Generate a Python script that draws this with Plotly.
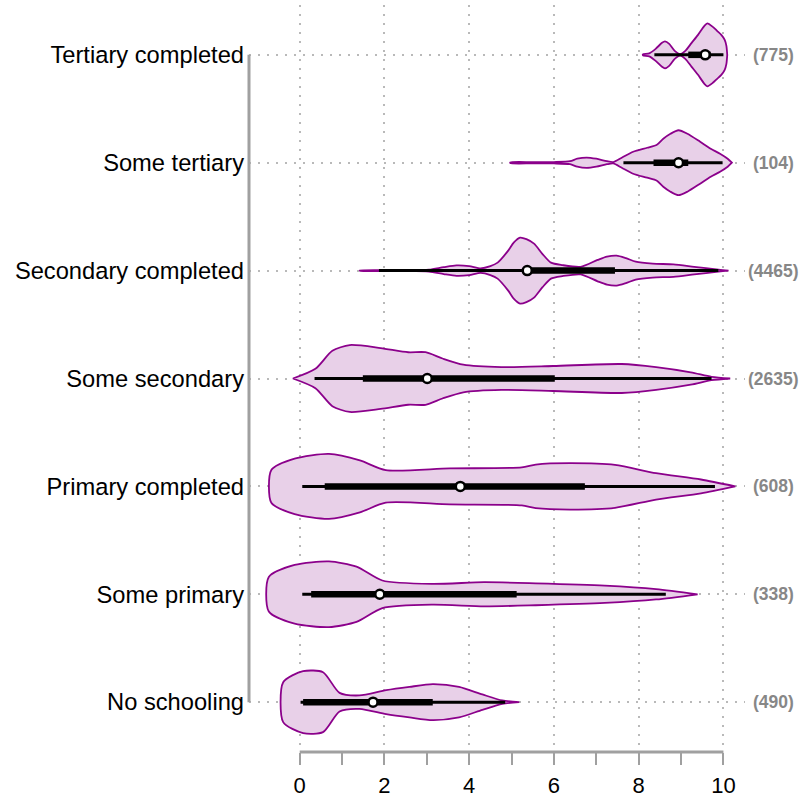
import plotly.graph_objects as go

# Education groups, listed top to bottom
categories = ["Tertiary completed", "Some tertiary", "Secondary completed",
              "Some secondary", "Primary completed", "Some primary", "No schooling"]
counts = [775, 104, 4465, 2635, 608, 338, 490]

# Box-plot summaries per group
whisker_lo = [8.37, 7.64, 1.87, 0.35, 0.06, 0.06, 0.02]
q1 = [9.17, 8.35, 5.28, 1.49, 0.59, 0.27, 0.08]
median = [9.57, 8.94, 5.37, 3.01, 3.79, 1.89, 1.73]
q3 = [9.70, 9.17, 7.44, 6.02, 6.73, 5.12, 3.14]
whisker_hi = [10.0, 9.98, 9.88, 9.72, 9.80, 8.64, 4.85]

# Kernel density profiles (score grid, density) per group
tert_done_x = [8.10, 8.25, 8.40, 8.55, 8.62, 8.72, 8.85, 8.98, 9.10, 9.25, 9.40,
               9.55, 9.62, 9.75, 9.85, 9.95, 10.03, 10.07, 10.09]
tert_done_d = [0.5, 1.5, 6, 12, 13.5, 11, 4, 0.8, 4, 12, 20,
               29, 31.5, 28, 24, 20, 15, 9, 0]

tert_some_x = [4.97, 5.5, 6.0, 6.38, 6.55, 6.77, 7.0, 7.25, 7.40, 7.6, 7.87, 8.2,
               8.43, 8.58, 8.75, 8.94, 9.15, 9.45, 9.7, 9.92, 10.1, 10.2]
tert_some_d = [0.4, 0.6, 0.7, 1.5, 4, 5.2, 4, 1.5, 0.7, 5, 11, 15,
               18, 24, 29, 32.5, 29, 21, 14, 9, 4, 0]

sec_done_x = [1.42, 2.5, 3.05, 3.4, 3.70, 4.0, 4.27, 4.5, 4.67, 4.92, 5.05, 5.20,
              5.35, 5.53, 5.73, 5.93, 6.2, 6.63, 7.03, 7.25, 7.48, 7.7, 7.93,
              8.33, 8.82, 9.31, 9.88, 10.12]
sec_done_d = [0.2, 0.3, 1, 3.5, 5.2, 4.5, 2.3, 4.5, 8, 20, 28, 33,
              31.5, 27, 16.6, 8, 5.5, 3.8, 10.7, 14, 15, 12.5, 9,
              7, 6.2, 3.8, 1, 0]

sec_some_x = [-0.16, 0.37, 0.77, 1.18, 1.91, 2.56, 2.97, 3.37, 3.86, 4.76, 5.98,
              7.60, 8.41, 9.23, 9.72, 10.16]
sec_some_d = [0, 9.7, 27.7, 33.5, 30.5, 26.3, 26.3, 20, 13.8, 11.4, 12.5,
              14.5, 11.4, 6.2, 1.7, 0]

prim_done_x = [-0.67, -0.12, 0.69, 1.42, 2.03, 3.54, 5.24, 5.57, 6.38, 7.44, 8.41,
               9.47, 10.28]
prim_done_d = [16.3, 27.7, 32.5, 26, 16.3, 18, 19, 21.8, 23.2, 21.5, 13.2,
               6.9, 0]

prim_some_x = [-0.73, -0.12, 0.69, 1.34, 1.95, 3.13, 4.35, 5.57, 7.20, 8.41, 9.39]
prim_some_d = [17.3, 29.4, 32.9, 27.7, 13.8, 10.4, 12.1, 11, 8.7, 5.2, 0]

none_x = [-0.39, 0.08, 0.55, 0.94, 1.41, 2.04, 2.59, 3.14, 3.76, 4.31, 4.78, 5.18]
none_d = [20, 31, 30, 9.3, 6.7, 12, 15.3, 18, 15.3, 7.7, 1.7, 0]

profiles = [(tert_done_x, tert_done_d), (tert_some_x, tert_some_d),
            (sec_done_x, sec_done_d), (sec_some_x, sec_some_d),
            (prim_done_x, prim_done_d), (prim_some_x, prim_some_d),
            (none_x, none_d)]

FONT = "Liberation Sans, Arial, Helvetica, sans-serif"
FILL = "rgb(232,208,232)"
EDGE = "rgb(139,0,139)"
AXIS_GREY = "rgb(160,160,160)"
GRID_GREY = "rgb(185,185,185)"
DENS_SCALE = 1.0 / 108.0   # density units -> row spacing

n = len(categories)
ypos = [n - 1 - i for i in range(n)]

fig = go.Figure()

for i, (gx, gd) in enumerate(profiles):
    yc = ypos[i]
    upper = [yc + d * DENS_SCALE for d in gd]
    lower = [yc - d * DENS_SCALE for d in gd]
    xs = list(gx) + list(gx[::-1]) + [gx[0]]
    ys = upper + lower[::-1] + [upper[0]]
    fig.add_trace(go.Scatter(
        x=xs, y=ys, mode="lines", fill="toself", fillcolor=FILL,
        line=dict(color=EDGE, width=1.8, shape="spline", smoothing=0.7),
        hoverinfo="skip", showlegend=False))

for i in range(n):
    yc = ypos[i]
    fig.add_trace(go.Scatter(
        x=[whisker_lo[i], whisker_hi[i]], y=[yc, yc], mode="lines",
        line=dict(color="black", width=3), showlegend=False, hoverinfo="skip"))
    fig.add_trace(go.Scatter(
        x=[q1[i], q3[i]], y=[yc, yc], mode="lines",
        line=dict(color="black", width=6.5), showlegend=False, hoverinfo="skip"))
    fig.add_trace(go.Scatter(
        x=[median[i]], y=[yc], mode="markers",
        marker=dict(symbol="circle", size=9, color="white",
                    line=dict(color="black", width=2.5)),
        showlegend=False, hoverinfo="skip"))
    fig.add_annotation(
        x=1, xref="paper", xshift=28, y=yc, yref="y",
        text=f"<b>({counts[i]})</b>", showarrow=False, xanchor="center",
        font=dict(family=FONT, size=17.5, color="rgb(135,135,135)"))

# Axis lines spanning only the data range
fig.add_shape(type="line", xref="x", yref="paper", x0=0, x1=10, y0=0, y1=0,
              line=dict(color=AXIS_GREY, width=3))
fig.add_shape(type="line", xref="paper", yref="y", x0=0, x1=0, y0=0, y1=n - 1,
              line=dict(color=AXIS_GREY, width=3))

fig.update_layout(
    width=801, height=803,
    margin=dict(l=249, r=56, t=5, b=49),
    paper_bgcolor="white", plot_bgcolor="white",
    font=dict(family=FONT, color="black"),
    xaxis=dict(
        range=[-1.197, 10.509], tickmode="array", tickvals=[0, 2, 4, 6, 8, 10],
        ticks="outside", ticklen=12, tickwidth=2, tickcolor=AXIS_GREY,
        tickfont=dict(size=22, family=FONT, color="black"),
        ticklabelstandoff=2,
        showline=False, zeroline=False,
        showgrid=True, gridcolor=GRID_GREY, gridwidth=1.5, griddash="2px,7px",
        minor=dict(tickmode="array", tickvals=[1, 3, 5, 7, 9], ticks="outside",
                   ticklen=12, tickwidth=2, tickcolor=AXIS_GREY, showgrid=False),
    ),
    yaxis=dict(
        range=[-0.462, 6.462], tickmode="array", tickvals=ypos, ticktext=categories,
        ticks="", tickfont=dict(size=23.7, family=FONT, color="black"),
        ticklabelstandoff=4,
        showline=False, zeroline=False,
        showgrid=True, gridcolor=GRID_GREY, gridwidth=1.5, griddash="2px,7px",
    ),
)

fig.write_html("out.html")
